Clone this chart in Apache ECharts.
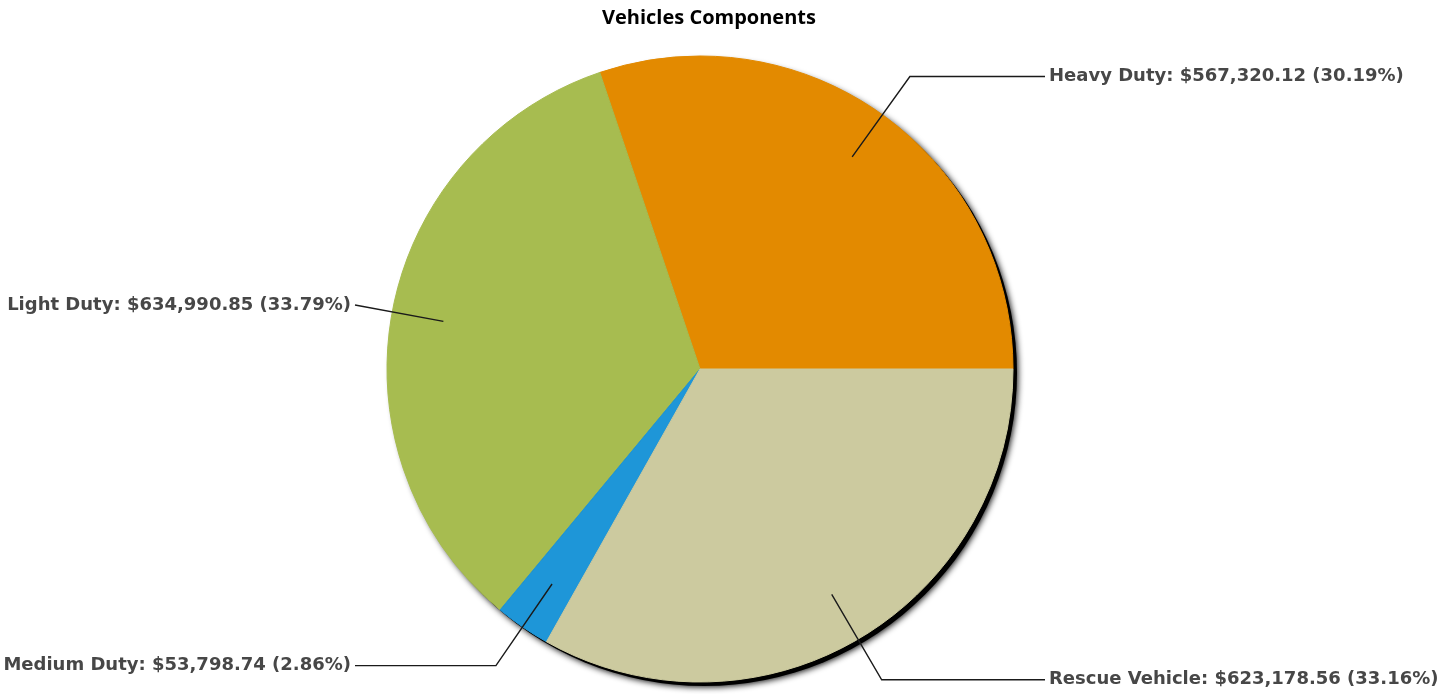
<!DOCTYPE html>
<html>
<head>
<meta charset="utf-8">
<title>Vehicles Components</title>
<script src="https://cdn.jsdelivr.net/npm/echarts@6/dist/echarts.min.js"></script>
<style>
  html, body { margin: 0; padding: 0; background: #ffffff; }
  #chart { width: 1455px; height: 694px; }
</style>
</head>
<body>
<div id="chart"></div>
<script>
// Component categories and their dollar totals
const categories = ['Heavy Duty', 'Light Duty', 'Medium Duty', 'Rescue Vehicle'];
const amounts = [567320.12, 634990.85, 53798.74, 623178.56];
const colors = ['#E38A00', '#A7BC50', '#1E96D8', '#CCCA9F'];
const chartTitle = 'Vehicles Components';

// Pie geometry (pixels)
const CX = 700, CY = 369, R = 313;
const LINE_START = 261;   // leader lines begin inside the slice
const LINE_BEND = 360;    // radial segment ends here (or at the alignment column)
const LINE_COLUMN = 345;  // horizontal distance from centre where leader lines end
const TEXT_GAP = 4;

const total = amounts.reduce((a, b) => a + b, 0);
const money = v => '$' + v.toLocaleString('en-US', { minimumFractionDigits: 2, maximumFractionDigits: 2 });
const sliceData = () => categories.map((name, i) => ({ name, value: amounts[i] }));

// Leader line: starts inside the slice, runs outward, then bends horizontally to a fixed column
function leaderLayout(params) {
  const pts = params.labelLinePoints;
  if (!pts) return {};
  let dx = pts[0][0] - CX, dy = pts[0][1] - CY;
  const len = Math.sqrt(dx * dx + dy * dy) || 1;
  dx /= len; dy /= len;
  const right = dx >= 0;
  const p0 = [CX + dx * LINE_START, CY + dy * LINE_START];
  let t = LINE_BEND;
  if (Math.abs(dx * t) > LINE_COLUMN) t = LINE_COLUMN / Math.abs(dx);
  const p1 = [CX + dx * t, CY + dy * t];
  const endX = right ? CX + LINE_COLUMN : CX - LINE_COLUMN;
  return {
    x: right ? endX + TEXT_GAP : endX - TEXT_GAP,
    y: p1[1],
    align: right ? 'left' : 'right',
    verticalAlign: 'middle',
    labelLinePoints: [p0, p1, [endX, p1[1]]]
  };
}

const common = {
  type: 'pie',
  center: [CX, CY],
  radius: R,
  startAngle: 0,
  clockwise: false,
  avoidLabelOverlap: false
};

const chart = echarts.init(document.getElementById('chart'), null, { renderer: 'canvas' });

chart.setOption({
  animation: false,
  backgroundColor: '#ffffff',
  title: {
    text: chartTitle,
    left: 597,
    top: 3,
    textStyle: { fontFamily: 'Open Sans', fontWeight: 'bold', fontSize: 20, color: '#000000' }
  },
  series: [
    {
      // soft drop shadow under the pie
      type: 'pie',
      silent: true,
      z: 1,
      center: [CX + 4, CY + 4],
      radius: R,
      label: { show: false },
      labelLine: { show: false },
      itemStyle: { color: '#000000', shadowBlur: 6, shadowColor: 'rgba(0,0,0,0.95)', shadowOffsetX: 1, shadowOffsetY: 1 },
      data: [{ name: '', value: total }]
    },
    Object.assign({}, common, {
      // the slices
      z: 2,
      data: sliceData().map((d, i) => Object.assign(d, {
        itemStyle: { color: colors[i], borderColor: colors[i], borderWidth: 1 }
      })),
      label: { show: false },
      labelLine: { show: false }
    }),
    Object.assign({}, common, {
      // labels and leader lines drawn over the slices
      z: 3,
      silent: true,
      data: sliceData(),
      itemStyle: { color: 'rgba(0,0,0,0)', borderWidth: 0 },
      label: {
        show: true,
        position: 'outside',
        fontFamily: 'DejaVu Sans',
        fontWeight: 'bold',
        fontSize: 18,
        color: '#474747',
        formatter: p => `${p.name}: ${money(p.value)} (${p.percent.toFixed(2)}%)`
      },
      labelLine: {
        show: true,
        lineStyle: { color: '#1a1a1a', width: 1.4 }
      },
      labelLayout: leaderLayout
    })
  ]
});
</script>
</body>
</html>
